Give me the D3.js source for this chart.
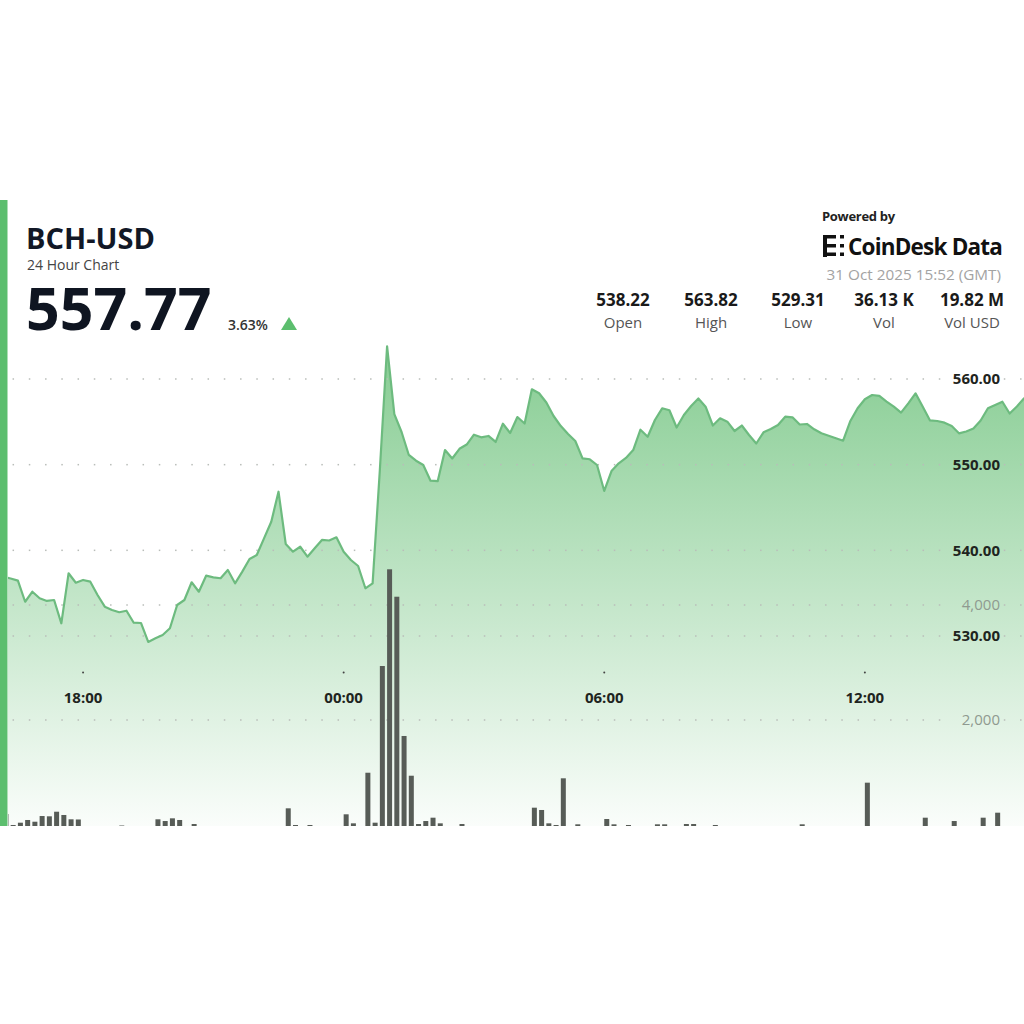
<!DOCTYPE html>
<html><head><meta charset="utf-8">
<script src="https://cdn.jsdelivr.net/npm/d3@7"></script>
<style>
html,body{margin:0;padding:0;background:#fff;}
svg{display:block;font-family:"Open Sans","Noto Sans",sans-serif;}
</style></head>
<body>
<svg id="c" width="1024" height="1024"></svg>
<script>
// ---------- DATA ----------
const symbol = "BCH-USD";
const subtitle = "24 Hour Chart";
const lastPrice = "557.77";
const changePct = "3.63%";
const timestampText = "31 Oct 2025 15:52 (GMT)";
const statValues = ["538.22", "563.82", "529.31", "36.13 K", "19.82 M"];
const statLabels = ["Open", "High", "Low", "Vol", "Vol USD"];
const priceTicks = [530, 540, 550, 560];
const volumeTicks = [2000, 4000];
// 10-minute buckets starting 30 Oct 2025 15:50 UTC
const startTime = Date.UTC(2025, 9, 30, 15, 50);
const windowStart = Date.UTC(2025, 9, 30, 15, 52);
const windowEnd = Date.UTC(2025, 9, 31, 15, 52);
const prices = [
 538.22,536.95,536.89,536.71,536.46,534.00,535.17,534.40,534.09,534.20,
 531.48,537.32,536.22,536.54,536.34,534.79,533.42,533.04,532.77,532.95,
 531.55,531.52,529.31,529.73,530.12,530.90,533.62,534.20,536.27,535.17,
 537.04,536.85,536.74,537.70,536.15,537.51,538.99,539.46,541.40,543.34,
 546.84,540.74,539.84,540.42,539.26,540.24,541.21,541.15,541.52,539.84,
 538.87,538.17,535.57,536.15,549.38,563.82,555.91,553.81,551.13,550.46,
 549.96,548.13,548.09,551.71,550.72,551.85,552.35,553.50,553.19,553.35,
 552.65,554.78,553.70,555.56,554.81,558.80,558.33,557.26,555.68,554.51,
 553.58,552.76,550.74,550.63,549.96,546.93,549.26,550.16,550.78,551.71,
 554.08,553.26,555.21,556.58,556.35,554.34,555.80,556.85,557.72,556.77,
 554.57,555.41,555.02,553.93,554.57,553.46,552.47,553.78,554.16,554.63,
 555.60,555.53,554.69,554.75,554.13,553.66,553.38,553.08,552.80,555.10,
 556.58,557.63,558.13,558.02,557.37,556.77,556.07,557.16,558.33,556.75,
 555.16,555.10,554.90,554.51,553.66,553.87,554.22,555.16,556.58,556.96,
 557.35,555.97,556.80,557.75,557.77
];
const volumes = [
 120,140,365,174,214,261,231,330,325,405,
 348,273,270,95,60,110,80,130,165,70,
 90,120,135,273,243,290,261,100,191,85,
 60,75,110,90,65,120,80,105,130,140,
 125,464,174,110,174,90,70,85,130,360,
 203,140,1083,214,2939,4621,4144,1722,1031,191,
 243,301,203,120,95,191,80,110,70,60,
 90,130,100,115,140,475,435,203,174,986,
 120,186,110,95,130,278,186,100,174,85,
 120,105,186,186,90,70,191,191,110,80,
 174,60,75,90,55,70,95,65,50,80,
 60,100,186,75,55,65,90,70,120,135,
 140,910,130,85,70,60,95,80,110,301,
 90,75,120,243,100,85,130,301,110,388,
 95,120,80,100,60
];
const times = prices.map((_, i) => new Date(startTime + i * 600000));

// ---------- LAYOUT ----------
const svg = d3.select("#c");
const green = "#5cbe6e";
const plotLeft = 8, plotRight = 1024, plotBottom = 826;

const x = d3.scaleUtc().domain([windowStart, windowEnd]).range([-9.6, 1032.8]);
const yP = d3.scaleLinear().domain([530, 560]).range([636, 379]);
const yV = d3.scaleLinear().domain([0, 4000]).range([835, 605]);

const defs = svg.append("defs");
const grad = defs.append("linearGradient").attr("id", "areaGrad")
  .attr("gradientUnits", "userSpaceOnUse").attr("x1", 0).attr("x2", 0)
  .attr("y1", yP(564)).attr("y2", plotBottom);
grad.append("stop").attr("offset", 0).attr("stop-color", "#5dbb6d").attr("stop-opacity", 0.75);
grad.append("stop").attr("offset", 1).attr("stop-color", "#5dbb6d").attr("stop-opacity", 0.03);
defs.append("clipPath").attr("id", "plotClip").append("rect")
  .attr("x", plotLeft).attr("y", 0).attr("width", plotRight - plotLeft).attr("height", plotBottom);

const plot = svg.append("g").attr("clip-path", "url(#plotClip)");

// area
const area = d3.area().x((d, i) => x(times[i])).y0(plotBottom).y1(d => yP(d));
plot.append("path").datum(prices).attr("d", area).attr("fill", "url(#areaGrad)");

// dotted grid
const labelLeft = 946, labelRight = 1003;
function gridRow(yy) {
  const pts = d3.range(13.3, 1024, 16.25).filter(px => px < labelLeft || px > labelRight);
  plot.append("g").selectAll("rect").data(pts).join("rect")
    .attr("x", d => d - 0.75).attr("y", yy - 0.75).attr("width", 1.5).attr("height", 1.5)
    .attr("fill", "#b9bdb9");
}
priceTicks.forEach(t => gridRow(yP(t)));
volumeTicks.forEach(t => gridRow(yV(t)));

// volume bars
plot.append("g").selectAll("rect").data(volumes).join("rect")
  .attr("x", (d, i) => x(times[i]))
  .attr("width", 5)
  .attr("y", d => yV(d))
  .attr("height", d => yV(0) - yV(d))
  .attr("fill", "#575c57");

// price line
const line = d3.line().x((d, i) => x(times[i])).y(d => yP(d));
plot.append("path").datum(prices).attr("d", line)
  .attr("fill", "none").attr("stroke", "#6dbb7f").attr("stroke-width", 2.2)
  .attr("stroke-linejoin", "round");

// axis labels
const axisG = svg.append("g");
priceTicks.forEach(t => {
  axisG.append("text").attr("x", 1000).attr("y", yP(t)).attr("dy", "0.36em")
    .attr("text-anchor", "end").attr("font-size", 15).attr("font-weight", 700)
    .attr("fill", "#1e2420").text(d3.format(".2f")(t));
});
volumeTicks.forEach(t => {
  axisG.append("text").attr("x", 1000).attr("y", yV(t)).attr("dy", "0.36em")
    .attr("text-anchor", "end").attr("font-size", 15).attr("font-weight", 400)
    .attr("fill", "#8f9a90").text(d3.format(",")(t));
});
const xTicks = x.ticks(d3.utcHour.every(6));
xTicks.forEach(t => {
  axisG.append("circle").attr("cx", x(t)).attr("cy", 672.5).attr("r", 1).attr("fill", "#444");
  axisG.append("text").attr("x", x(t)).attr("y", 697.5).attr("dy", "0.36em")
    .attr("text-anchor", "middle").attr("font-size", 15).attr("font-weight", 700)
    .attr("fill", "#1e2420").text(d3.utcFormat("%H:%M")(t));
});

// left accent bar
svg.append("rect").attr("x", 0).attr("y", 200).attr("width", 7.5).attr("height", plotBottom - 200).attr("fill", green);

// ---------- HEADER ----------
svg.append("text").attr("x", 26).attr("y", 249).attr("font-size", 29).attr("font-weight", 700)
  .attr("fill", "#121826").text(symbol);
svg.append("text").attr("x", 27).attr("y", 270).attr("font-size", 14).attr("font-weight", 400)
  .attr("fill", "#444").text(subtitle);
svg.append("text").attr("x", 26).attr("y", 330).attr("font-size", 59).attr("font-weight", 700)
  .attr("fill", "#0f1521").text(lastPrice);
svg.append("text").attr("x", 228).attr("y", 330).attr("font-size", 14).attr("font-weight", 600)
  .attr("fill", "#333").text(changePct);
svg.append("path").attr("d", "M281,330 L297,330 L289,317 Z").attr("fill", green);

// powered by
svg.append("text").attr("x", 822).attr("y", 221).attr("font-size", 13).attr("font-weight", 700)
  .attr("fill", "#222").attr("letter-spacing", -0.3).text("Powered by");
const logo = svg.append("g").attr("fill", "#111");
[[823,235,4,22],[823,235,13,3.5],[823,252.5,13,3.5],[826,244,10,3.5],[840,235,4,3.5],[840,244,4,3.5],[840,252.5,4,3.5]]
  .forEach(r => logo.append("rect").attr("x", r[0]).attr("y", r[1]).attr("width", r[2]).attr("height", r[3]));
svg.append("text").attr("x", 848).attr("y", 255).attr("font-size", 22.5).attr("font-weight", 700)
  .attr("fill", "#111").attr("letter-spacing", -0.8).text("CoinDesk Data");
svg.append("text").attr("x", 1001).attr("y", 280).attr("text-anchor", "end").attr("font-size", 15.3)
  .attr("fill", "#a3a3a3").text(timestampText);

const statX = [623, 711, 798, 884, 972];
statValues.forEach((v, i) => {
  svg.append("text").attr("x", statX[i]).attr("y", 306).attr("text-anchor", "middle")
    .attr("font-size", 17).attr("font-weight", 700).attr("fill", "#1a1a1a").text(v);
  svg.append("text").attr("x", statX[i]).attr("y", 328).attr("text-anchor", "middle")
    .attr("font-size", 15).attr("font-weight", 400).attr("fill", "#555").text(statLabels[i]);
});
</script>
</body></html>
